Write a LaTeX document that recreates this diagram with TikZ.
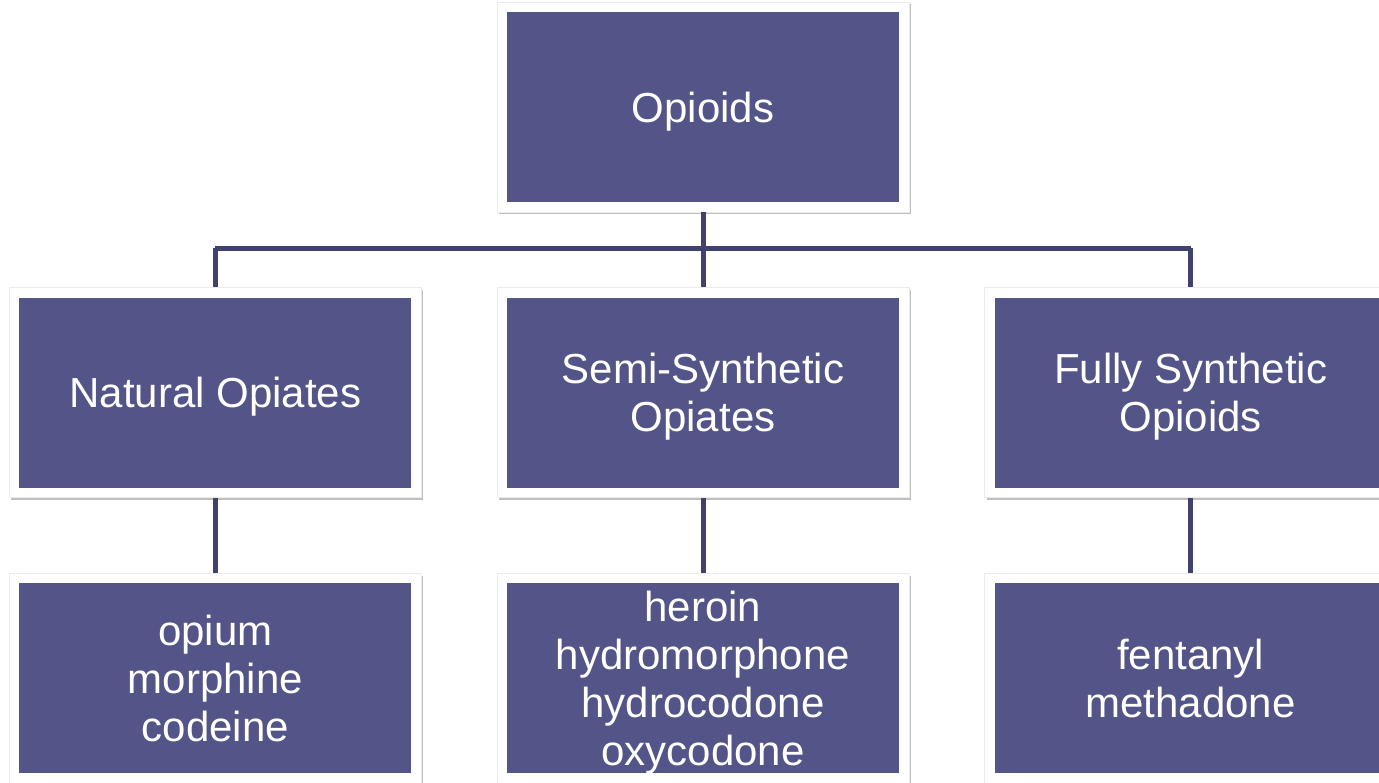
\documentclass[tikz,border=0pt]{standalone}
\usepackage{fontspec}
\setmainfont{Liberation Sans}
\usepackage{tikz}
\usetikzlibrary{calc,positioning,shadows}
\definecolor{boxfill}{HTML}{535488}
\definecolor{linkcol}{HTML}{40416F}

\tikzset{
  catbox/.style={rectangle, fill=white, draw=black!8, line width=0.6pt,
    minimum width=412pt, minimum height=210pt, inner sep=0pt, text depth=0pt,
    drop shadow={shadow xshift=2pt, shadow yshift=-2.5pt, opacity=0.25, fill=black},
    text=white, align=center, font=\fontsize{42}{48}\selectfont,
    path picture={\fill[boxfill]
      ([shift={(10pt,10pt)}]path picture bounding box.south west) rectangle
      ([shift={(-10pt,-10pt)}]path picture bounding box.north east);}},
  link/.style={draw=linkcol, line width=5pt}
}

\begin{document}
\begin{tikzpicture}[x=1pt, y=1pt]
        \clip (0,0) rectangle (1379,-783);
        \fill[white] (0,0) rectangle (1379,-783);
        %Draw boxes
        \node[catbox] (opioids) at (703,-107) {Opioids};
        \node[catbox, below=75pt of opioids] (semi) {Semi-Synthetic\\Opiates};
        \node[catbox, left=75pt of semi] (natural) {Natural Opiates};
        \node[catbox, right=75pt of semi] (fully) {Fully Synthetic\\Opioids};
        \node[catbox, below=75pt of natural] (natlist) {opium\\morphine\\codeine};
        \node[catbox, below=75pt of semi] (semilist) {heroin\\hydromorphone\\hydrocodone\\oxycodone};
        \node[catbox, below=75pt of fully] (fullylist) {fentanyl\\methadone};
        \coordinate (bus) at ($(opioids.south)!0.48!(semi.north)$);
        %Draw lines
        \draw[link] (opioids.south) -- (semi.north);
        \draw[link] (bus -| natural) -- (bus -| fully);
        \draw[link] (bus -| natural) -- (natural.north);
        \draw[link] (bus -| fully) -- (fully.north);
        \draw[link] (natural.south) -- (natlist.north);
        \draw[link] (semi.south) -- (semilist.north);
        \draw[link] (fully.south) -- (fullylist.north);
      \end{tikzpicture}
\end{document}
